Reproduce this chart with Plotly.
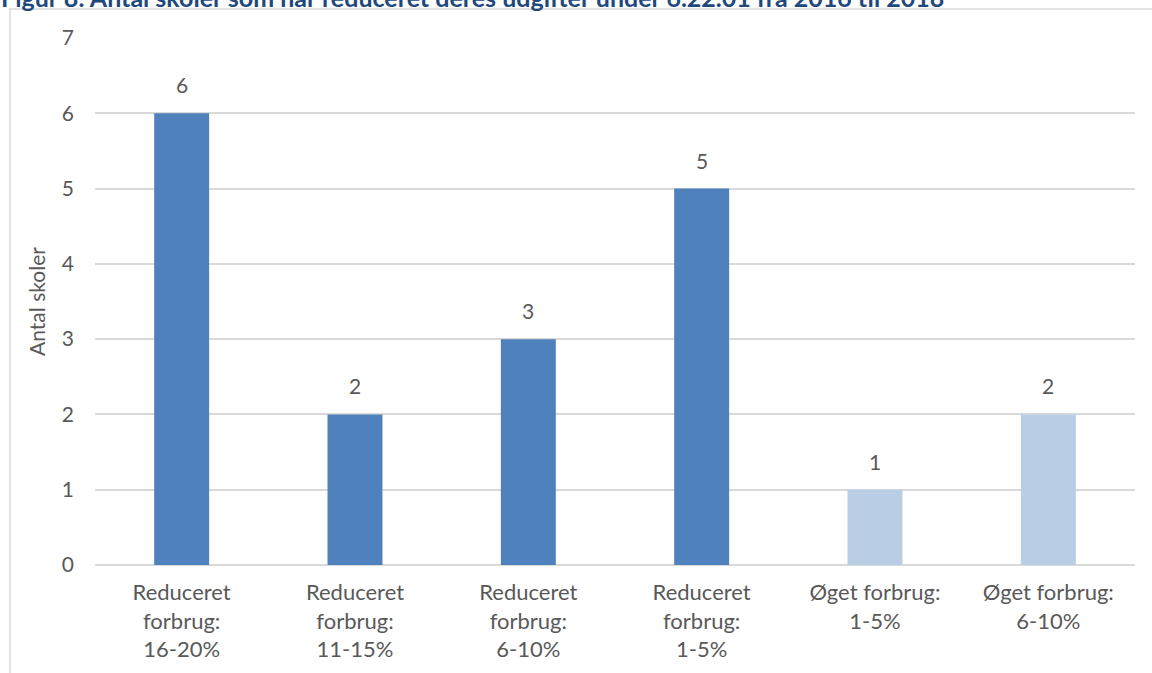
import plotly.graph_objects as go

categories = ["Reduceret<br>forbrug:<br>16-20%", "Reduceret<br>forbrug:<br>11-15%",
              "Reduceret<br>forbrug:<br>6-10%", "Reduceret<br>forbrug:<br>1-5%",
              "Øget forbrug:<br>1-5%", "Øget forbrug:<br>6-10%"]
values = [6, 2, 3, 5, 1, 2]
bar_colors = ["#4F81BD", "#4F81BD", "#4F81BD", "#4F81BD", "#B9CDE5", "#B9CDE5"]
y_ticks = [0, 1, 2, 3, 4, 5, 6, 7]
title_text = "Figur 8: Antal skoler som har reduceret deres udgifter under 6.22.01 fra 2016 til 2018"
y_title = "Antal skoler"

FONT = "Lato"
TXT = "#595959"

fig = go.Figure(go.Bar(x=categories, y=values, marker=dict(color=bar_colors, line=dict(width=0)),
                       hoverinfo="skip"))

for c, v in zip(categories, values):
    fig.add_annotation(x=c, y=v, text=str(v), showarrow=False, yanchor="bottom", yshift=14,
                       font=dict(family=FONT, size=21, color=TXT))

W, H = 1152, 673
ml, mr, mt, mb = 95, 17, 38, 108
pw, ph = W - ml - mr, H - mt - mb

def px_x(p):
    return (p - ml) / pw

def px_y(p):
    return (H - mb - p) / ph

# outer chart frame
fig.add_shape(type="rect", xref="paper", yref="paper",
              x0=px_x(10), x1=px_x(1170), y0=px_y(700), y1=px_y(9),
              line=dict(color="#D9D9D9", width=1.5), fillcolor="rgba(0,0,0,0)", layer="below")

fig.add_annotation(xref="paper", yref="paper", x=px_x(-1), y=px_y(-3), xanchor="left", yanchor="middle",
                   text="<b>" + title_text + "</b>", showarrow=False,
                   font=dict(family=FONT, size=25, color="#1F497D"))

fig.update_layout(
    width=W, height=H,
    margin=dict(l=ml, r=mr, t=mt, b=mb),
    paper_bgcolor="white", plot_bgcolor="white",
    bargap=0.683, showlegend=False,
    font=dict(family=FONT, color=TXT, size=21),
    xaxis=dict(showgrid=False, showline=False, zeroline=False, ticks="",
               tickfont=dict(size=22, color=TXT), ticklabelstandoff=12),
    yaxis=dict(range=[0, 7], tickvals=y_ticks, showgrid=True, gridcolor="#D9D9D9", gridwidth=1.5,
               zeroline=True, zerolinecolor="#D9D9D9", zerolinewidth=1.5, showline=False, ticks="",
               tickfont=dict(size=21, color=TXT), ticklabelstandoff=20,
               title=dict(text=y_title, font=dict(size=21, color=TXT), standoff=10)),
)

fig.write_html("out.html")
